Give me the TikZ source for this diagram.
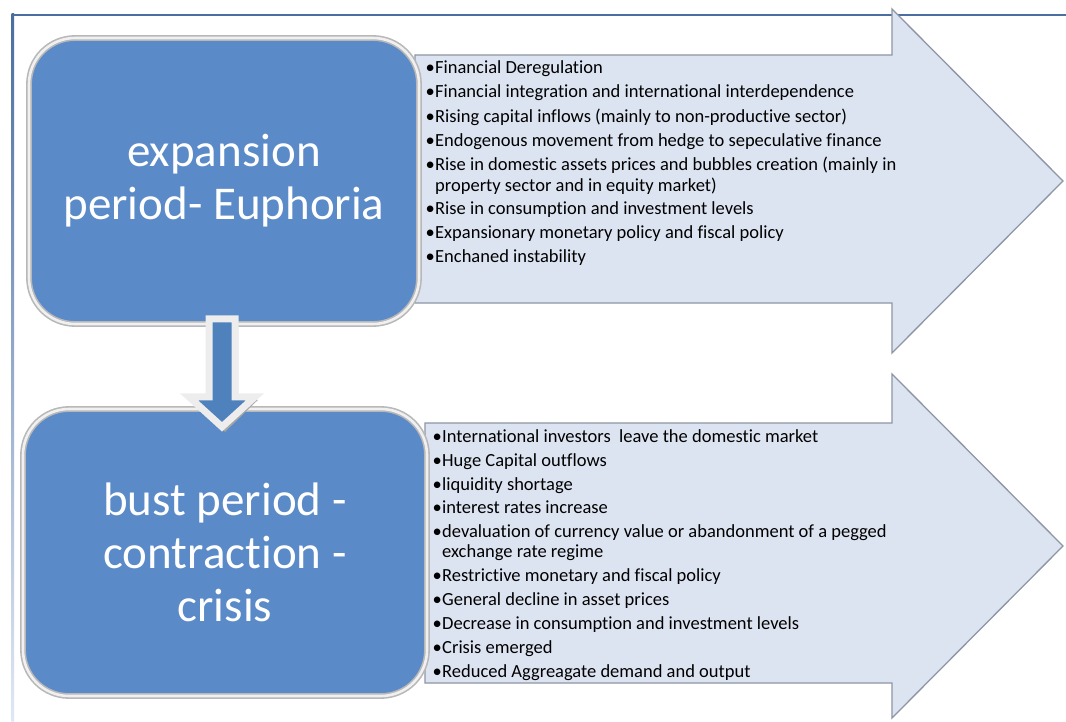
\documentclass[tikz,border=0pt]{standalone}
\usepackage{fontspec}
\setmainfont{Carlito}[RawFeature={-liga;-dlig;-clig}]
\usetikzlibrary{calc}
\definecolor{frameblue}{HTML}{4A6EA0}
\definecolor{framelight}{HTML}{E0E8F5}
\definecolor{boxblue}{HTML}{5A8AC7}
\definecolor{boxring}{HTML}{B8B8B8}
\definecolor{arrowfill}{HTML}{DDE4F1}
\definecolor{arrowedge}{HTML}{8E95A4}
\definecolor{darrowblue}{HTML}{4F81BD}
\tikzset{
  phase/.style={rounded corners=46pt, fill=boxblue, draw=boxring, line width=1.6pt,
    double=white!94!black, double distance=2.6pt,
    text=white, align=center, inner sep=0pt, font=\fontsize{47}{53}\selectfont},
  bigarrow/.style={fill=arrowfill, draw=arrowedge, line width=1.3pt, line join=miter},
  item/.style={anchor=base west, inner sep=0pt, font=\fontsize{18.5}{24}\selectfont},
  downarr/.style={fill=darrowblue, draw=white!93!black, line width=7pt, line join=miter},
}
\newcommand{\bl}{\makebox[9.5pt][l]{\textbullet}}
\begin{document}
\begin{tikzpicture}[x=1pt,y=-1pt]
\useasboundingbox (0,0) rectangle (1066,722);
\fill[white] (0,0) rectangle (1066,722);
% frame
\shade[top color=frameblue, bottom color=framelight] (11.5,14) rectangle (14,722);
\draw[frameblue, line width=2.5pt] (11.5,15) -- (1066,15);
% big arrows
\draw[bigarrow] (415,55) -- (892,55) -- (892,9) -- (1063,181) -- (892,353) -- (892,303) -- (415,303) -- cycle;
\draw[bigarrow] (425,423) -- (892,423) -- (892,374) -- (1063,546) -- (892,718) -- (892,683) -- (425,683) -- cycle;
% phase boxes
\node[phase, minimum width=390pt, minimum height=286pt] (exp) at (224,181) {expansion\\period- Euphoria};
\node[phase, minimum width=404pt, minimum height=287pt] (bust) at (225,552.5) {bust period -\\contraction -\\crisis};
% down block arrow from exp to bust
\coordinate (da) at ($(exp.south)+(-2,0)$);
\fill[black!35] ($(da)+(-10,-3)$) -- ($(da)+(-10,75)$) -- ($(da)+(-30,75)$) -- ($(da)+(3,107)$) -- ($(da)+(36,75)$) -- ($(da)+(16,75)$) -- ($(da)+(16,-3)$) -- cycle;
\draw[downarr] ($(da)+(-13,-6)$) -- ($(da)+(-13,72)$) -- ($(da)+(-33,72)$) -- ($(da)+(0,102)$) -- ($(da)+(33,72)$) -- ($(da)+(13,72)$) -- ($(da)+(13,-6)$) -- cycle;
% expansion list
\node[item] (t1) at (425.5,74) {\bl Financial Deregulation};
\node[item] (t2) at (425.5,98) {\bl Financial integration and international interdependence};
\node[item] (t3) at (425.5,122.5) {\bl Rising capital inflows (mainly to non-productive sector)};
\node[item] (t4) at (425.5,146.5) {\bl Endogenous movement from hedge to sepeculative finance};
\node[item] (t5) at (425.5,170.5) {\bl Rise in domestic assets prices and bubbles creation (mainly in};
\node[item] (t5b) at (435,192) {property sector and in equity market)};
\node[item] (t6) at (425.5,215) {\bl Rise in consumption and investment levels};
\node[item] (t7) at (425.5,238.5) {\bl Expansionary monetary policy and fiscal policy};
\node[item] (t8) at (425.5,262) {\bl Enchaned instability};
% bust list
\node[item] (b1) at (432.5,442) {\bl International investors\ \ leave the domestic market};
\node[item] (b2) at (432.5,466.5) {\bl Huge Capital outflows};
\node[item] (b3) at (432.5,490) {\bl liquidity shortage};
\node[item] (b4) at (432.5,513.5) {\bl interest rates increase};
\node[item] (b5) at (432.5,537) {\bl devaluation of currency value or abandonment of a pegged};
\node[item] (b5b) at (442,557.5) {exchange rate regime};
\node[item] (b6) at (432.5,581.5) {\bl Restrictive monetary and fiscal policy};
\node[item] (b7) at (432.5,605.5) {\bl General decline in asset prices};
\node[item] (b8) at (432.5,629.5) {\bl Decrease in consumption and investment levels};
\node[item] (b9) at (432.5,653.5) {\bl Crisis emerged};
\node[item] (b10) at (432.5,677) {\bl Reduced Aggreagate demand and output};
\end{tikzpicture}
\end{document}
